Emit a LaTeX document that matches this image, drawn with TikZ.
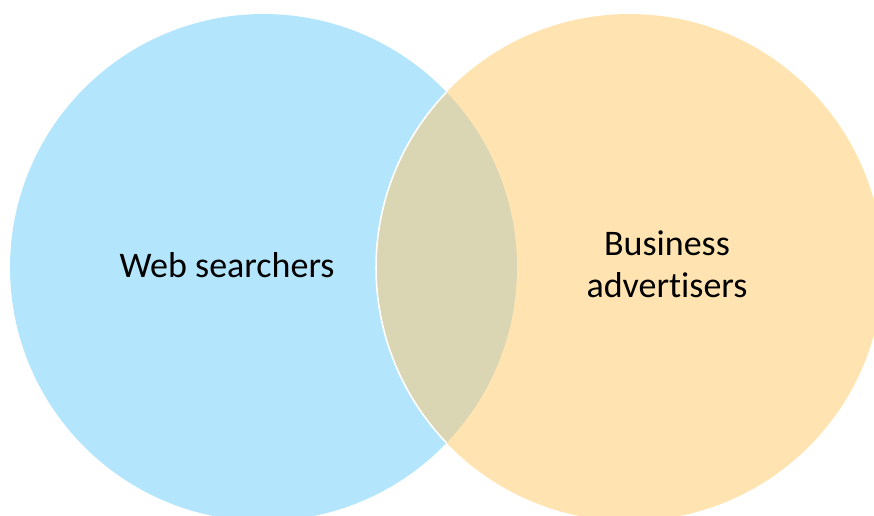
\documentclass[tikz,border=0pt]{standalone}
\usepackage{fontspec}
\setmainfont[Ligatures={NoCommon}]{Carlito}
\definecolor{webblue}{RGB}{179,229,252}
\definecolor{bizorange}{RGB}{255,228,178}
\definecolor{bothgreen}{RGB}{218,214,179}
\tikzset{label text/.style={font=\fontsize{27}{31}\selectfont, inner sep=0pt, align=center}}
\begin{document}
\begin{tikzpicture}[x=0.75pt,y=-0.75pt]
  % Frame
  \useasboundingbox (0,0) rectangle (874,515);
  \coordinate (webc) at (263.5,267.5);
  \coordinate (bizc) at (629.5,267.5);

  % Circles
  \fill[webblue] (webc) circle (190.1pt);
  \fill[bizorange] (bizc) circle (190.1pt);
  \begin{scope}
    \clip (webc) circle (190.1pt);
    \fill[bothgreen] (bizc) circle (190.1pt);
    \draw[white,line width=1.2pt] (bizc) circle (190.1pt);
  \end{scope}

  % Labels
  \node[label text, anchor=base] (web) at (227,277) {Web searchers};
  \node[label text, anchor=base] (biz) at (667,297) {Business\\advertisers};
\end{tikzpicture}
\end{document}
